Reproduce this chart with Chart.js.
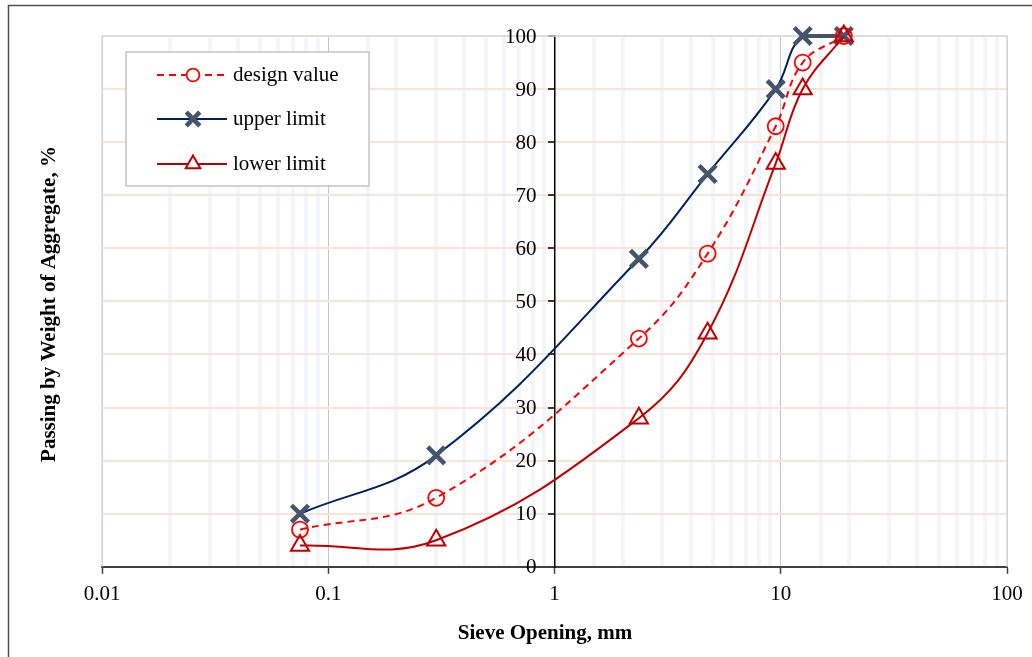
<!DOCTYPE html>
<html>
<head>
<meta charset="utf-8">
<script src="https://cdn.jsdelivr.net/npm/chart.js@4.4.1/dist/chart.umd.min.js"></script>
<style>
  html, body { margin: 0; padding: 0; background: #fff; }
  #wrap { position: relative; width: 1032px; height: 657px; }
</style>
</head>
<body>
<div id="wrap"><canvas id="gradation" width="1032" height="657"></canvas></div>
<script>
'use strict';

// ── Gradation data: sieve opening (mm) vs. percent passing ──────
const sieveSizes  = [0.075, 0.3, 2.36, 4.75, 9.5, 12.5, 19];
const designValue = [7, 13, 43, 59, 83, 95, 100];
const upperLimit  = [10, 21, 58, 74, 90, 100, 100];
const lowerLimit  = [4, 5, 28, 44, 76, 90, 100];

const xTickValues = [0.01, 0.1, 1, 10, 100];
const xTickLabels = ['0.01', '0.1', '1', '10', '100'];
const yTickLabels = ['0', '10', '20', '30', '40', '50', '60', '70', '80', '90', '100'];

const SERIF = "'Times New Roman', 'Liberation Serif', serif";
const FONT_PX = 21;

function toPoints(values) {
  return sieveSizes.map((x, i) => ({ x, y: values[i] }));
}

function decadeIndex(v) {
  return xTickValues.findIndex(d => Math.abs(Math.log10(v) - Math.log10(d)) < 1e-6);
}

// ── Frame, y labels, axis titles and boxed legend ───────────────
const sheetDecor = {
  id: 'sheetDecor',
  beforeDatasetsDraw(chart) {
    const { ctx, chartArea: a, scales } = chart;
    ctx.save();
    ctx.strokeStyle = '#d5d9df';
    ctx.lineWidth = 1.5;
    ctx.beginPath();
    ctx.moveTo(a.left, a.bottom);
    ctx.lineTo(a.left, a.top);
    ctx.lineTo(a.right, a.top);
    ctx.lineTo(a.right, a.bottom);
    ctx.stroke();

    // y tick labels sit left of the axis that crosses at x = 1
    const axisX = scales.x.getPixelForValue(1);
    ctx.fillStyle = '#000';
    ctx.font = FONT_PX + 'px ' + SERIF;
    ctx.textAlign = 'right';
    ctx.textBaseline = 'middle';
    scales.y.ticks.forEach((t, i) => {
      ctx.fillText(yTickLabels[i], axisX - 18, scales.y.getPixelForValue(t.value) + 1);
    });
    ctx.restore();
  },
  afterDraw(chart) {
    const { ctx } = chart;
    ctx.save();

    // outer chart border
    ctx.strokeStyle = '#505050';
    ctx.lineWidth = 1.5;
    ctx.beginPath();
    ctx.moveTo(8.5, 657);
    ctx.lineTo(8.5, 5.5);
    ctx.lineTo(1032, 5.5);
    ctx.stroke();

    // axis titles
    ctx.fillStyle = '#000';
    ctx.font = 'bold ' + FONT_PX + 'px ' + SERIF;
    ctx.textAlign = 'center';
    ctx.textBaseline = 'middle';
    ctx.fillText('Sieve Opening, mm', 545, 634);
    ctx.save();
    ctx.translate(50, 304);
    ctx.rotate(-Math.PI / 2);
    ctx.fillText('Passing by Weight of Aggregate, %', 0, 0);
    ctx.restore();

    // legend box
    ctx.fillStyle = '#fff';
    ctx.fillRect(126, 52, 243, 134);
    ctx.strokeStyle = '#c4c4c4';
    ctx.lineWidth = 1.5;
    ctx.strokeRect(126, 52, 243, 134);

    const rowY = [75, 119, 164];
    chart.data.datasets.forEach((ds, i) => {
      const y = rowY[i];
      ctx.save();
      ctx.strokeStyle = ds.borderColor;
      ctx.lineWidth = ds.borderWidth;
      ctx.setLineDash(ds.borderDash || []);
      ctx.beginPath();
      ctx.moveTo(157, y);
      ctx.lineTo(227, y);
      ctx.stroke();
      ctx.setLineDash([]);
      ctx.strokeStyle = ds.pointBorderColor;
      ctx.lineWidth = ds.pointBorderWidth;
      ctx.fillStyle = '#fff';
      Chart.helpers.drawPoint(ctx, {
        pointStyle: ds.pointStyle,
        radius: ds.pointRadius * 0.8,
        rotation: 0,
        borderWidth: ds.pointBorderWidth,
      }, 193, y);
      ctx.restore();

      ctx.fillStyle = '#000';
      ctx.font = FONT_PX + 'px ' + SERIF;
      ctx.textAlign = 'left';
      ctx.textBaseline = 'middle';
      ctx.fillText(ds.label, 233, y);
    });

    ctx.restore();
  },
};

Chart.defaults.font.family = SERIF;
Chart.defaults.font.size = FONT_PX;
Chart.defaults.color = '#000';

new Chart(document.getElementById('gradation'), {
  type: 'line',
  data: {
    datasets: [
      {
        label: 'design value',
        data: toPoints(designValue),
        borderColor: '#ff0000',
        borderWidth: 2,
        borderDash: [7, 5],
        tension: 0.4,
        pointStyle: 'circle',
        pointRadius: 8,
        pointBorderWidth: 1.8,
        pointBorderColor: '#ff0000',
        pointBackgroundColor: 'rgba(255,255,255,0)',
        clip: false,
        order: 2,
      },
      {
        label: 'upper limit',
        data: toPoints(upperLimit),
        borderColor: '#002060',
        borderWidth: 2,
        tension: 0.4,
        pointStyle: 'crossRot',
        pointRadius: 12,
        pointBorderWidth: 4.5,
        pointBorderColor: '#44546a',
        pointBackgroundColor: '#44546a',
        segment: {
          borderColor: c => (c.p0DataIndex === 5 ? '#44546a' : undefined),
          borderWidth: c => (c.p0DataIndex === 5 ? 4 : undefined),
        },
        clip: false,
        order: 3,
      },
      {
        label: 'lower limit',
        data: toPoints(lowerLimit),
        borderColor: '#c00000',
        borderWidth: 2,
        tension: 0.4,
        pointStyle: 'triangle',
        pointRadius: 10.5,
        pointBorderWidth: 2,
        pointBorderColor: '#c00000',
        pointBackgroundColor: 'rgba(255,255,255,0)',
        clip: false,
        order: 1,
      },
    ],
  },
  options: {
    responsive: false,
    animation: false,
    layout: { padding: { left: 102, right: 25, top: 36, bottom: 42 } },
    plugins: {
      legend: { display: false },
      tooltip: { enabled: false },
    },
    scales: {
      x: {
        type: 'logarithmic',
        position: 'bottom',
        min: 0.01,
        max: 100,
        grid: {
          color: c => (decadeIndex(c.tick.value) >= 0 ? '#c6c6c6' : '#f3f5f8'),
          lineWidth: c => (decadeIndex(c.tick.value) >= 0 ? 1 : 4),
          tickColor: c => (decadeIndex(c.tick.value) >= 0 ? '#404040' : 'rgba(0,0,0,0)'),
          tickWidth: 1.5,
          tickLength: 7,
        },
        border: { color: '#404040', width: 2 },
        ticks: {
          autoSkip: false,
          maxRotation: 0,
          padding: 8,
          callback: v => {
            const i = decadeIndex(v);
            return i >= 0 ? xTickLabels[i] : '';
          },
        },
      },
      y: {
        position: { x: 1 },
        min: 0,
        max: 100,
        grid: {
          color: '#fbe4d5',
          lineWidth: 2,
          tickColor: '#000',
          tickWidth: 1.5,
          tickLength: 6,
        },
        border: { color: '#000', width: 1.5 },
        ticks: {
          stepSize: 10,
          display: false,
        },
      },
    },
  },
  plugins: [sheetDecor],
});
</script>
</body>
</html>
